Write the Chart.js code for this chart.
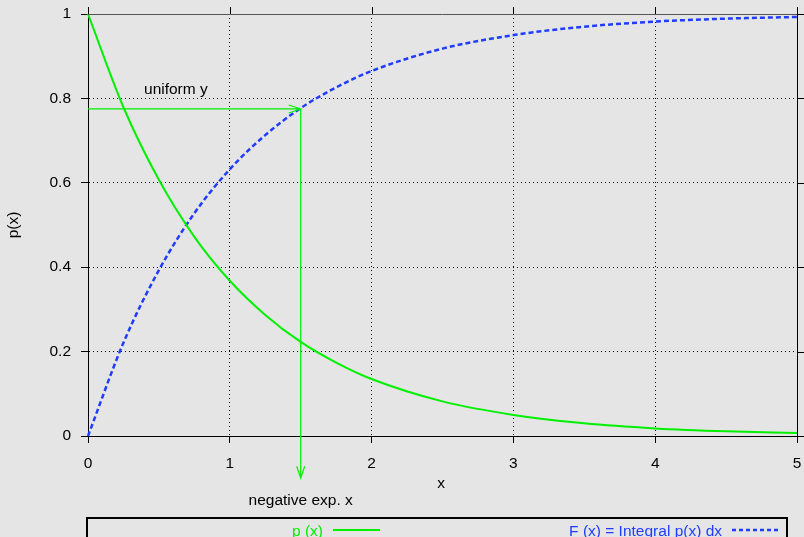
<!DOCTYPE html>
<html>
<head>
<meta charset="utf-8">
<script src="https://cdn.jsdelivr.net/npm/chart.js@4"></script>
<style>
  html, body { margin: 0; padding: 0; background: #e5e5e5; }
  #wrap { width: 804px; height: 537px; }
</style>
</head>
<body>
<div id="wrap"><canvas id="c" width="804" height="537"></canvas></div>
<script>
// values
const xs = [0, 0.25, 0.5, 0.75, 1, 1.25, 1.5, 1.75, 2, 2.5, 3, 3.5, 4, 4.5, 5];
const pVals = [1, 0.779, 0.607, 0.472, 0.368, 0.287, 0.223, 0.174, 0.135, 0.082, 0.050, 0.030, 0.018, 0.011, 0.007];
const fVals = [0, 0.221, 0.393, 0.528, 0.632, 0.713, 0.777, 0.826, 0.865, 0.918, 0.950, 0.970, 0.982, 0.989, 0.993];
const xTicks = [0, 1, 2, 3, 4, 5];
const yTicks = [0, 0.2, 0.4, 0.6, 0.8, 1];
const seriesNames = ["p (x)", "F (x) = Integral p(x) dx"];
const uniformY = 0.775;
const pickX = 1.5;
const arrowBottom = -0.1;

const green = "#00f000";
const blue = "#1f3cff";
const font = "15.5px 'Liberation Sans', Arial, sans-serif";

const overlay = {
  id: "overlay",
  afterDraw(chart) {
    const ctx = chart.ctx;
    const xs_ = chart.scales.x, ys_ = chart.scales.y;
    const a = chart.chartArea;
    ctx.save();
    // right axis + top border with mirror ticks
    ctx.strokeStyle = "#000";
    ctx.lineWidth = 1;
    ctx.beginPath();
    ctx.moveTo(a.right + 0.5, a.top - 7);
    ctx.lineTo(a.right + 0.5, a.bottom);
    yTicks.forEach(v => {
      const y = Math.round(ys_.getPixelForValue(v)) + 0.5;
      ctx.moveTo(a.right, y); ctx.lineTo(a.right + 8, y);
    });
    xTicks.forEach(v => {
      const x = Math.round(xs_.getPixelForValue(v)) + 0.5;
      ctx.moveTo(x, a.top); ctx.lineTo(x, a.top - 7);
    });
    ctx.stroke();
    ctx.strokeStyle = "#555";
    ctx.beginPath();
    ctx.moveTo(a.left, a.top + 0.5);
    ctx.lineTo(a.right, a.top + 0.5);
    ctx.stroke();

    // arrows
    ctx.strokeStyle = green;
    ctx.lineWidth = 1.2;
    const x0 = xs_.getPixelForValue(0);
    const xp = xs_.getPixelForValue(pickX);
    const yu = ys_.getPixelForValue(uniformY);
    const yb = ys_.getPixelForValue(arrowBottom);
    ctx.beginPath();
    ctx.moveTo(x0, yu); ctx.lineTo(xp, yu);
    ctx.moveTo(xp - 12, yu - 4); ctx.lineTo(xp, yu); ctx.lineTo(xp - 12, yu + 4);
    ctx.moveTo(xp, yu); ctx.lineTo(xp, yb);
    ctx.moveTo(xp - 4, yb - 12); ctx.lineTo(xp, yb); ctx.lineTo(xp + 4, yb - 12);
    ctx.stroke();

    // labels
    ctx.fillStyle = "#000";
    ctx.font = font;
    ctx.textBaseline = "middle";
    ctx.textAlign = "left";
    ctx.fillText("uniform y", xs_.getPixelForValue(0.395), ys_.getPixelForValue(0.82));
    ctx.textAlign = "center";
    ctx.fillText("negative exp. x", xs_.getPixelForValue(1.5), ys_.getPixelForValue(-0.153));
    ctx.fillText("x", 441, 484);
    ctx.save();
    ctx.translate(14, 225);
    ctx.rotate(-Math.PI / 2);
    ctx.fillText("p(x)", 0, 0);
    ctx.restore();

    // legend box
    ctx.strokeStyle = "#000";
    ctx.lineWidth = 2;
    ctx.strokeRect(87, 518, 700, 40);
    ctx.textAlign = "right";
    ctx.textBaseline = "alphabetic";
    ctx.fillStyle = green;
    ctx.fillText(seriesNames[0], 323, 536);
    ctx.strokeStyle = green;
    ctx.beginPath(); ctx.moveTo(333, 530); ctx.lineTo(380, 530); ctx.stroke();
    ctx.fillStyle = blue;
    ctx.fillText(seriesNames[1], 722, 536);
    ctx.strokeStyle = blue;
    ctx.lineWidth = 2.5;
    ctx.setLineDash([4, 3]);
    ctx.beginPath(); ctx.moveTo(732, 530); ctx.lineTo(778, 530); ctx.stroke();
    ctx.restore();
  }
};

const tickFont = { family: "'Liberation Sans', Arial", size: 15.5 };

new Chart(document.getElementById("c"), {
  type: "line",
  data: {
    datasets: [
      {
        label: seriesNames[0],
        data: xs.map((x, i) => ({ x, y: pVals[i] })),
        borderColor: green, borderWidth: 2, pointRadius: 0,
        cubicInterpolationMode: "monotone", clip: false
      },
      {
        label: seriesNames[1],
        data: xs.map((x, i) => ({ x, y: fVals[i] })),
        borderColor: blue, borderWidth: 2.5, borderDash: [5, 3], pointRadius: 0,
        cubicInterpolationMode: "monotone", clip: false
      }
    ]
  },
  options: {
    responsive: false,
    animation: false,
    events: [],
    layout: { padding: { top: 14, right: 7, left: 0, bottom: 0 } },
    plugins: { legend: { display: false }, tooltip: { enabled: false } },
    scales: {
      x: {
        type: "linear", min: 0, max: 5,
        afterBuildTicks: s => { s.ticks = xTicks.map(v => ({ value: v })); },
        afterFit: s => { s.height = 101; s.paddingLeft = 0; s.paddingRight = 0; },
        border: { color: "#000", width: 1, dash: [1, 3] },
        grid: { color: "#000", tickColor: "#000", tickBorderDash: [], tickLength: 7 },
        ticks: { color: "#000", font: tickFont, padding: 11, maxRotation: 0, callback: v => String(v) }
      },
      y: {
        min: 0, max: 1,
        afterBuildTicks: s => { s.ticks = yTicks.map(v => ({ value: v })); },
        afterFit: s => { s.width = 88; s.paddingTop = 0; s.paddingBottom = 0; },
        border: { color: "#000", width: 1, dash: [1, 3] },
        grid: { color: "#000", tickColor: "#000", tickBorderDash: [], tickLength: 7 },
        ticks: { color: "#000", font: tickFont, padding: 10, callback: v => String(v) }
      }
    }
  },
  plugins: [overlay]
});
</script>
</body>
</html>
